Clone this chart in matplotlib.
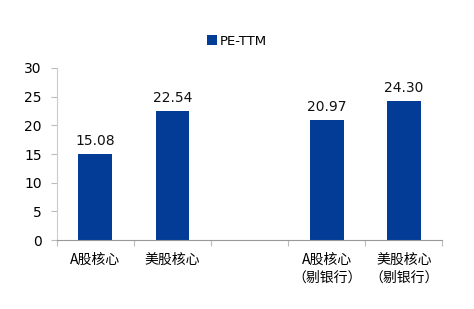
import matplotlib.pyplot as plt
import numpy as np

plt.rcParams['font.family'] = ['DejaVu Sans', 'Noto Sans CJK SC']

# data
categories = ['A股核心', '美股核心', '', 'A股核心\n（剔银行）', '美股核心\n（剔银行）']
pe_ttm = [15.08, 22.54, None, 20.97, 24.30]
value_labels = ['15.08', '22.54', '', '20.97', '24.30']
yticks = [0, 5, 10, 15, 20, 25, 30]

bar_color = '#023c96'

fig = plt.figure(figsize=(4.74, 3.09), dpi=100)
ax = fig.add_axes([0.120, 0.223, 0.813, 0.557])

x = np.arange(len(categories))
heights = [v if v is not None else 0 for v in pe_ttm]
bars = ax.bar(x, heights, width=0.44, color=bar_color, label='PE-TTM')
for b, v, lab in zip(bars, pe_ttm, value_labels):
    if v is None:
        b.set_visible(False)
        continue
    ax.text(b.get_x() + b.get_width() / 2, v + 1.0, lab, ha='center', va='bottom',
            fontsize=10, color='#111111')

ax.set_xlim(-0.5, len(categories) - 0.5)
ax.set_ylim(0, 30)
ax.set_yticks(yticks)
ax.tick_params(axis='y', labelsize=10, length=4, color='#bbbbbb', pad=7)

# category boundaries as ticks, labels in the middle
ax.set_xticks(np.arange(-0.5, len(categories)), minor=False)
ax.set_xticklabels([])
ax.set_xticks(x, minor=True)
ax.set_xticklabels(categories, minor=True, family=['Noto Sans CJK SC'], fontsize=10,
                   linespacing=1.35)
ax.tick_params(axis='x', which='major', length=4, color='#bbbbbb')
ax.tick_params(axis='x', which='minor', length=0, pad=9)

for s in ['top', 'right']:
    ax.spines[s].set_visible(False)
ax.spines['left'].set_color('#cccccc')
ax.spines['bottom'].set_color('#999999')

fig.legend(handles=[bars], labels=['PE-TTM'], loc='center', bbox_to_anchor=(0.5, 0.866),
           frameon=False, fontsize=9.5, handlelength=0.75, handleheight=0.75, handletextpad=0.2)

fig.savefig('out.png', dpi=100)
